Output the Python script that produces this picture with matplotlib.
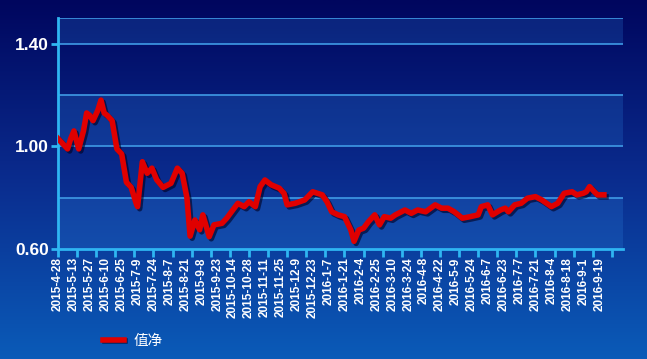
import numpy as np
import matplotlib
matplotlib.use("Agg")
import matplotlib.pyplot as plt
import matplotlib.patheffects as pe
from matplotlib.colors import LinearSegmentedColormap
from matplotlib.lines import Line2D

# trading-day index and net value
days = [0, 3, 6, 8, 10, 13, 16, 18, 20, 22, 25, 27, 29, 31, 34, 37, 40, 43, 46, 49,
        50, 53, 56, 59, 62, 66, 71, 75, 78, 81, 83, 86, 89, 91, 95, 98, 103, 106, 109, 113,
        117, 120, 124, 127, 130, 134, 139, 142, 144, 149, 155, 160, 166, 169, 172, 176, 180, 184, 186, 189,
        192, 195, 199, 202, 205, 209, 212, 218, 222, 226, 231, 237, 241, 245, 249, 254, 259, 264, 266, 270,
        273, 278, 281, 283, 287, 291, 295, 300, 304, 310, 314, 318, 323, 326, 330, 332, 334, 337, 339, 343]
nav = [1.03, 1.01, 0.99, 1.03, 1.06, 0.99, 1.06, 1.13, 1.12, 1.10, 1.14, 1.18, 1.13, 1.12, 1.10, 0.99, 0.97, 0.86, 0.84, 0.78,
       0.765, 0.94, 0.895, 0.915, 0.87, 0.84, 0.856, 0.915, 0.895, 0.80, 0.65, 0.713, 0.675, 0.733, 0.648, 0.694, 0.70, 0.72, 0.745, 0.778,
       0.765, 0.784, 0.765, 0.843, 0.869, 0.85, 0.837, 0.817, 0.772, 0.778, 0.791, 0.823, 0.811, 0.784, 0.745, 0.733, 0.726, 0.674, 0.63, 0.674,
       0.681, 0.706, 0.733, 0.694, 0.726, 0.72, 0.733, 0.752, 0.739, 0.752, 0.745, 0.772, 0.759, 0.759, 0.745, 0.72, 0.726, 0.733, 0.765, 0.772,
       0.733, 0.752, 0.759, 0.745, 0.772, 0.778, 0.798, 0.804, 0.791, 0.765, 0.778, 0.817, 0.823, 0.811, 0.817, 0.823, 0.843, 0.823, 0.811, 0.811]

date_labels = ["2015-4-28", "2015-5-13", "2015-5-27", "2015-6-10", "2015-6-25", "2015-7-9",
               "2015-7-24", "2015-8-7", "2015-8-21", "2015-9-8", "2015-9-23", "2015-10-14",
               "2015-10-28", "2015-11-11", "2015-11-25", "2015-12-9", "2015-12-23", "2016-1-7",
               "2016-1-21", "2016-2-4", "2016-2-25", "2016-3-10", "2016-3-24", "2016-4-8",
               "2016-4-22", "2016-5-9", "2016-5-24", "2016-6-7", "2016-6-23", "2016-7-7",
               "2016-7-21", "2016-8-4", "2016-8-18", "2016-9-1", "2016-9-19"]
label_pos = [10 * i for i in range(len(date_labels))]
mark_pos = [12 * i for i in range(30)]

W, H = 647, 359
fig = plt.figure(figsize=(W / 100, H / 100), dpi=100)

# background gradient
bg = fig.add_axes([0, 0, 1, 1], zorder=-10)
cmap = LinearSegmentedColormap.from_list("bg", ["#00065e", "#0a2c8e", "#0b5bb8"])
bg.imshow(np.linspace(0, 1, 256).reshape(-1, 1), aspect="auto", cmap=cmap,
          extent=[0, 1, 0, 1], origin="upper")
bg.axis("off")

cyan = "#2fb6f2"
ax = fig.add_axes([58 / W, 1 - 249 / H, (623 - 58) / W, (249 - 18) / H])
ax.patch.set_alpha(0)
ax.set_xlim(0, 355)
ax.set_ylim(0.6, 1.5)

for lo, hi in [(0.6, 0.8), (1.0, 1.2), (1.4, 1.5)]:
    ax.axhspan(lo, hi, color="#2f86e0", alpha=0.22, lw=0, zorder=0)
for y in [0.8, 1.0, 1.2, 1.4, 1.5]:
    ax.axhline(y, color="#3f9ae6", lw=1.2, zorder=1)

ax.plot(days, nav, color="#e00000", lw=4, solid_joinstyle="round", zorder=3,
        path_effects=[pe.SimpleLineShadow(offset=(1.5, -1.5), shadow_color="#000020", alpha=0.6),
                      pe.Normal()])

for s in ["top", "right"]:
    ax.spines[s].set_visible(False)
for s in ["left", "bottom"]:
    ax.spines[s].set_color(cyan)
    ax.spines[s].set_linewidth(2)

ax.set_yticks([0.6, 1.0, 1.4])
ax.set_yticklabels(["0.60", "1.00", "1.40"])
ax.tick_params(axis="y", colors=cyan, length=5, width=2, labelcolor="white", pad=1.5)
for t in ax.get_yticklabels():
    t.set_fontfamily("Liberation Sans")
    t.set_fontweight("bold")
    t.set_fontsize(12.5)

ax.xaxis.remove_overlapping_locs = False
ax.set_xticks(mark_pos)
ax.set_xticklabels([])
ax.tick_params(axis="x", which="major", colors=cyan, length=6, width=2)
ax.set_xticks(label_pos, minor=True)
ax.set_xticklabels(date_labels, minor=True, rotation=90, fontfamily="Liberation Sans",
                   fontweight="bold", fontsize=8.5, color="white")
ax.tick_params(axis="x", which="minor", length=0, pad=6)

h = Line2D([], [], color="#e00000", lw=4,
           path_effects=[pe.SimpleLineShadow(offset=(1, -1), shadow_color="#000020", alpha=0.6), pe.Normal()])
leg = fig.legend([h], ["值净"], loc="center left", bbox_to_anchor=(90 / W, 1 - 341 / H),
                 frameon=False, handlelength=1.4, handletextpad=0.7,
                 prop={"family": ["Noto Sans CJK SC", "DejaVu Sans"], "size": 10.5})
for t in leg.get_texts():
    t.set_color("white")

fig.savefig("out.png", dpi=100)
